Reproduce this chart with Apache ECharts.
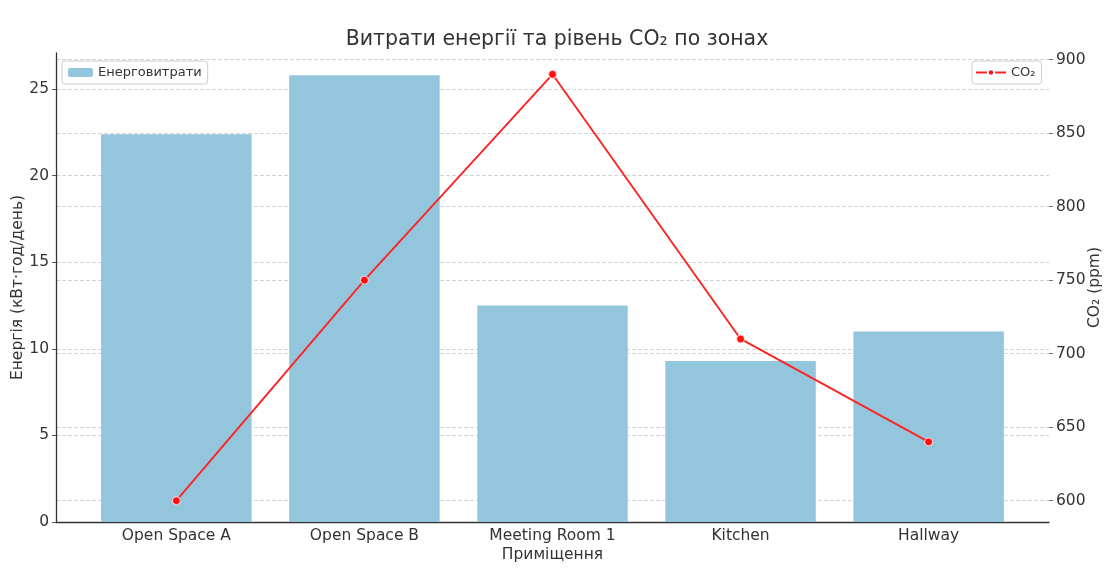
<!DOCTYPE html>
<html>
<head>
<meta charset="utf-8">
<script src="https://cdn.jsdelivr.net/npm/echarts@6/dist/echarts.min.js"></script>
<style>html,body{margin:0;padding:0;background:#fff}#c{width:1109px;height:572px}</style>
</head>
<body>
<div id="c"></div>
<script>
const categories = ['Open Space A', 'Open Space B', 'Meeting Room 1', 'Kitchen', 'Hallway'];
const energy = [22.4, 25.8, 12.5, 9.3, 11.0];
const co2 = [600, 750, 890, 710, 640];
const energyTicks = [0, 5, 10, 15, 20, 25];
const co2Ticks = [600, 650, 700, 750, 800, 850, 900];
const catTicks = [0, 1, 2, 3, 4];

const FONT = 'DejaVu Sans';
const TXT = '#333';
const chart = echarts.init(document.getElementById('c'), null, {renderer: 'canvas'});
chart.setOption({
  animation: false,
  textStyle: {fontFamily: FONT},
  title: {
    text: 'Витрати енергії та рівень CO₂ по зонах',
    left: 552, top: 24, textAlign: 'center',
    textStyle: {fontFamily: FONT, fontSize: 20.5, fontWeight: 'normal', color: TXT}
  },
  legend: [
    {
      data: ['Енерговитрати'], left: 62, top: 61, orient: 'vertical',
      itemWidth: 25, itemHeight: 9, itemGap: 5,
      padding: [5, 6, 5, 6], borderColor: '#ccc', borderWidth: 1, borderRadius: 3,
      textStyle: {fontFamily: FONT, fontSize: 13, color: TXT}
    },
    {
      data: ['CO₂'], left: 972, top: 61, orient: 'vertical',
      itemWidth: 30, itemHeight: 8,
      padding: [5, 6, 5, 3], borderColor: '#ccc', borderWidth: 1, borderRadius: 3,
      textStyle: {fontFamily: FONT, fontSize: 13, color: TXT}
    }
  ],
  grid: {left: 56, right: 60, top: 53, bottom: 50, containLabel: false, outerBoundsMode: 'none'},
  xAxis: {
    type: 'value', min: -0.64, max: 4.64,
    name: 'Приміщення', nameLocation: 'middle', nameGap: 25, nameMoveOverlap: false,
    nameTextStyle: {fontFamily: FONT, fontSize: 15.5, color: TXT},
    axisLine: {show: true, onZero: false, lineStyle: {color: '#333', width: 1.3}},
    axisTick: {show: true, inside: true, length: 4, customValues: catTicks, lineStyle: {color: '#555'}},
    axisLabel: {customValues: catTicks, margin: 6, fontFamily: FONT, fontSize: 15.5, color: TXT,
      formatter: v => categories[Math.round(v)]},
    splitLine: {show: false}
  },
  yAxis: [
    {
      type: 'value', min: 0, max: 27.09, position: 'left',
      name: 'Енергія (кВт·год/день)', nameLocation: 'middle', nameRotate: 90, nameGap: 30, nameMoveOverlap: false,
      nameTextStyle: {fontFamily: FONT, fontSize: 15.5, color: TXT},
      axisLine: {show: true, onZero: false, lineStyle: {color: '#333', width: 1.3}},
      axisTick: {show: true, length: 4, customValues: energyTicks, lineStyle: {color: '#555'}},
      axisLabel: {customValues: energyTicks, margin: 7, fontFamily: FONT, fontSize: 15.5, color: TXT},
      splitLine: {show: true, lineStyle: {color: '#d4d4d4', type: [4, 2], width: 1}}
    },
    {
      type: 'value', min: 585.5, max: 904.5, position: 'right',
      name: 'CO₂ (ppm)', nameLocation: 'middle', nameRotate: 90, nameGap: 38, nameMoveOverlap: false,
      nameTextStyle: {fontFamily: FONT, fontSize: 15.5, color: TXT},
      axisLine: {show: false, onZero: false},
      axisTick: {show: true, length: 4, customValues: co2Ticks, lineStyle: {color: '#777'}},
      axisLabel: {customValues: co2Ticks, margin: 7, fontFamily: FONT, fontSize: 15.5, color: TXT},
      splitLine: {show: true, lineStyle: {color: '#d4d4d4', type: [4, 2], width: 1}}
    }
  ],
  series: [
    {
      name: 'Енерговитрати', type: 'bar', yAxisIndex: 0, barWidth: '80%',
      itemStyle: {color: '#93c6dd'},
      data: categories.map((c, i) => [i, energy[i]]),
      z: 2
    },
    {
      name: 'CO₂', type: 'line', yAxisIndex: 1,
      symbol: 'circle', symbolSize: 8,
      lineStyle: {color: '#ff2222', width: 1.9},
      itemStyle: {color: '#ff1111', borderColor: '#fff', borderWidth: 0.8},
      data: categories.map((c, i) => [i, co2[i]]),
      z: 3
    }
  ]
});
</script>
</body>
</html>
